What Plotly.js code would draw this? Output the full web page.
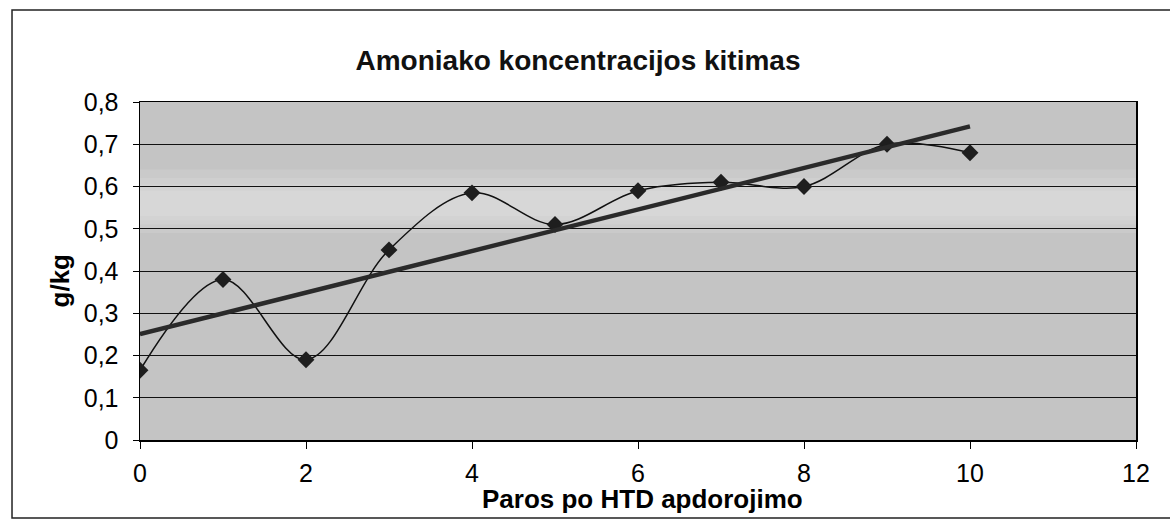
<!DOCTYPE html>
<html>
<head>
<meta charset="utf-8">
<script src="https://cdn.plot.ly/plotly-3.0.1.min.js"></script>
<style>
  html, body { margin: 0; padding: 0; background: #ffffff; }
  #chart { width: 1170px; height: 527px; }
</style>
</head>
<body>
<div id="chart"></div>
<script>
// Data
const days = [0, 1, 2, 3, 4, 5, 6, 7, 8, 9, 10];
const ammonia = [0.165, 0.38, 0.19, 0.45, 0.585, 0.51, 0.59, 0.61, 0.60, 0.70, 0.68];
const chartTitle = 'Amoniako koncentracijos kitimas';
const xTitle = 'Paros po HTD apdorojimo';
const yTitle = 'g/kg';
const yTickVals = [0, 0.1, 0.2, 0.3, 0.4, 0.5, 0.6, 0.7, 0.8];
const yTickText = ['0', '0,1', '0,2', '0,3', '0,4', '0,5', '0,6', '0,7', '0,8'];
const xTickVals = [0, 2, 4, 6, 8, 10, 12];

// Linear trendline (least squares) built from the data
const n = days.length;
const mx = days.reduce((a, b) => a + b, 0) / n;
const my = ammonia.reduce((a, b) => a + b, 0) / n;
let sxy = 0, sxx = 0;
for (let i = 0; i < n; i++) { sxy += (days[i] - mx) * (ammonia[i] - my); sxx += (days[i] - mx) ** 2; }
const slope = sxy / sxx;
const intercept = my - slope * mx;
const trendX = [days[0], days[n - 1]];
const trendY = trendX.map(x => intercept + slope * x);

const font = 'Liberation Sans, Arial, sans-serif';

const traces = [
  {
    x: days, y: ammonia, type: 'scatter', mode: 'lines+markers',
    line: { shape: 'spline', smoothing: 1, color: '#111111', width: 1.5 },
    marker: { symbol: 'diamond', size: 13, color: '#1e1e1e' },
    showlegend: false, hoverinfo: 'x+y'
  },
  {
    x: trendX, y: trendY, type: 'scatter', mode: 'lines',
    line: { color: '#2a2a2a', width: 4.5 },
    showlegend: false, hoverinfo: 'skip'
  }
];

// soft lighter band (scan shading) made of stacked translucent rectangles
const band = [[0.49, 0.64], [0.51, 0.62], [0.52, 0.605], [0.53, 0.59]].map(([a, b]) => ({
  type: 'rect', xref: 'paper', yref: 'y', x0: 0, x1: 1, y0: a, y1: b,
  fillcolor: '#ffffff', opacity: 0.1, line: { width: 0 }, layer: 'below'
}));

const layout = {
  width: 1170, height: 527,
  margin: { l: 140, r: 34, t: 102, b: 87 },
  paper_bgcolor: '#ffffff',
  plot_bgcolor: '#c4c4c4',
  font: { family: font, color: '#000000' },
  title: {
    text: '<b>' + chartTitle + '</b>',
    font: { family: font, size: 28, color: '#111111' },
    x: 0.494, xanchor: 'center', y: 0.885, yanchor: 'middle'
  },
  xaxis: {
    range: [0, 12], tickvals: xTickVals,
    ticks: 'outside', ticklen: 7, tickcolor: '#000', tickwidth: 1,
    ticklabelstandoff: 3,
    showline: true, linecolor: '#000', linewidth: 1.5, mirror: true,
    showgrid: false, zeroline: false,
    tickfont: { family: font, size: 25, color: '#000' },
    automargin: false
  },
  yaxis: {
    range: [0, 0.8], tickvals: yTickVals, ticktext: yTickText,
    ticks: 'outside', ticklen: 6, tickcolor: '#000', tickwidth: 1,
    ticklabelstandoff: 9,
    showline: true, linecolor: '#000', linewidth: 1.5, mirror: true,
    showgrid: true, gridcolor: '#111111', gridwidth: 1,
    zeroline: false,
    tickfont: { family: font, size: 25, color: '#000' },
    automargin: false
  },
  annotations: [
    { text: '<b>' + xTitle + '</b>', xref: 'paper', yref: 'paper', x: 0.505, y: -0.175,
      xanchor: 'center', yanchor: 'middle', showarrow: false,
      font: { family: font, size: 26, color: '#000' } },
    { text: '<b>' + yTitle + '</b>', xref: 'paper', yref: 'paper', x: -0.08, y: 0.47,
      xanchor: 'center', yanchor: 'middle', showarrow: false, textangle: -90,
      font: { family: font, size: 26, color: '#000' } }
  ],
  shapes: band.concat([
    { type: 'rect', xref: 'paper', yref: 'paper', x0: -0.1285, x1: 1.05, y0: -0.231, y1: 1.272,
      line: { color: '#222', width: 1.5 }, fillcolor: 'rgba(0,0,0,0)', layer: 'below' }
  ])
};

Plotly.newPlot('chart', traces, layout, { staticPlot: true, displayModeBar: false });
</script>
</body>
</html>
